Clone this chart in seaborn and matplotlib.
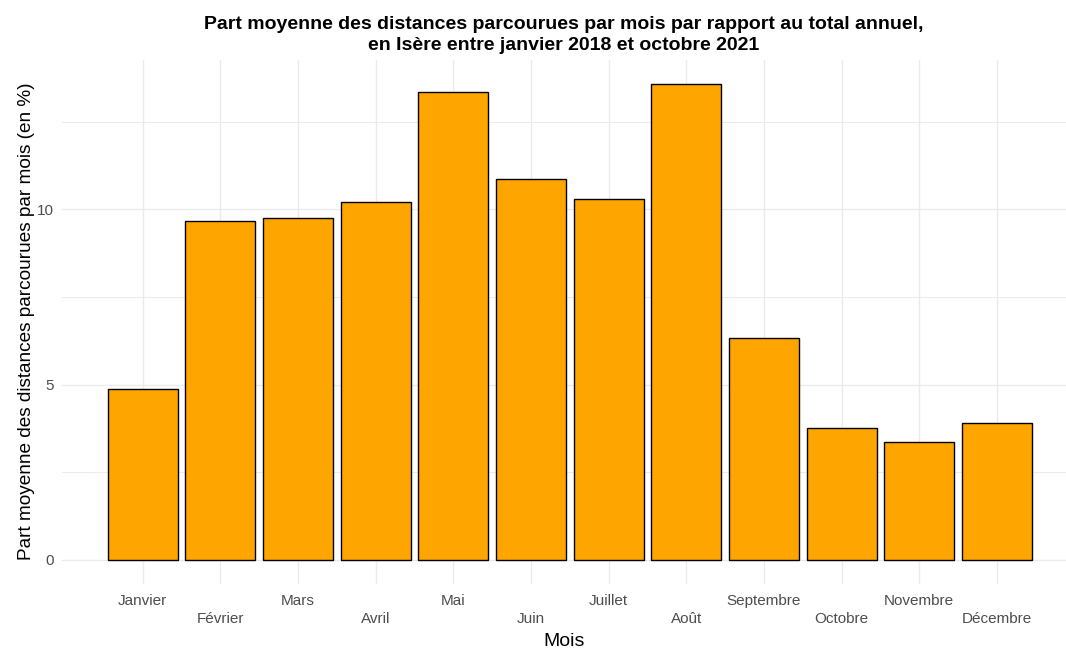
import matplotlib
matplotlib.use("Agg")
import matplotlib.pyplot as plt
import seaborn as sns
import pandas as pd

mois = ["Janvier", "Février", "Mars", "Avril", "Mai", "Juin", "Juillet",
        "Août", "Septembre", "Octobre", "Novembre", "Décembre"]
part = [4.87, 9.66, 9.76, 10.21, 13.35, 10.86, 10.31, 13.59, 6.33, 3.77, 3.37, 3.91]

df = pd.DataFrame({"Mois": mois, "Part": part})

sns.set_theme(style="whitegrid")
plt.rcParams['font.family'] = ['Liberation Sans', 'DejaVu Sans']

fig = plt.figure(figsize=(10.66, 6.51), dpi=100)
ax = fig.add_axes([62 / 1066, 1 - 583.8 / 651, 1 - 62 / 1066, (583.8 - 59.7) / 651])

sns.barplot(data=df, x="Mois", y="Part", color="#FFA500", edgecolor="black",
            linewidth=1.0, width=0.9, saturation=1, ax=ax)

ymax = max(part)
ax.set_ylim(-0.05 * ymax, 1.05 * ymax)
ax.set_xlim(-1.04, len(mois) - 1 + 0.89)
ax.set_yticks([0, 5, 10])
ax.set_yticks([2.5, 7.5, 12.5], minor=True)
ax.grid(True, which="major", color="#EBEBEB", linewidth=1.0)
ax.grid(True, which="minor", axis="y", color="#EBEBEB", linewidth=0.7)
ax.set_axisbelow(True)
for s in ax.spines.values():
    s.set_visible(False)
ax.set_facecolor("white")

labels = [m if i % 2 == 0 else "\n" + m for i, m in enumerate(mois)]
ax.set_xticks(range(len(mois)))
ax.set_xticklabels(labels, fontsize=11, color="#4D4D4D", linespacing=1.45)
ax.tick_params(axis="x", length=0, pad=7)
ax.tick_params(axis="y", length=0, pad=6, labelsize=11, labelcolor="#4D4D4D")

ax.set_xlabel("Mois", fontsize=14, color="black", labelpad=5)
ax.set_ylabel("Part moyenne des distances parcourues par mois (en %)", fontsize=13.7,
              color="black", labelpad=1)
ax.set_title("Part moyenne des distances parcourues par mois par rapport au total annuel,\n"
             "en Isère entre janvier 2018 et octobre 2021",
             fontsize=14, fontweight="bold", color="black", pad=7, linespacing=1.28)

fig.savefig("out.png", dpi=100, facecolor="white")
